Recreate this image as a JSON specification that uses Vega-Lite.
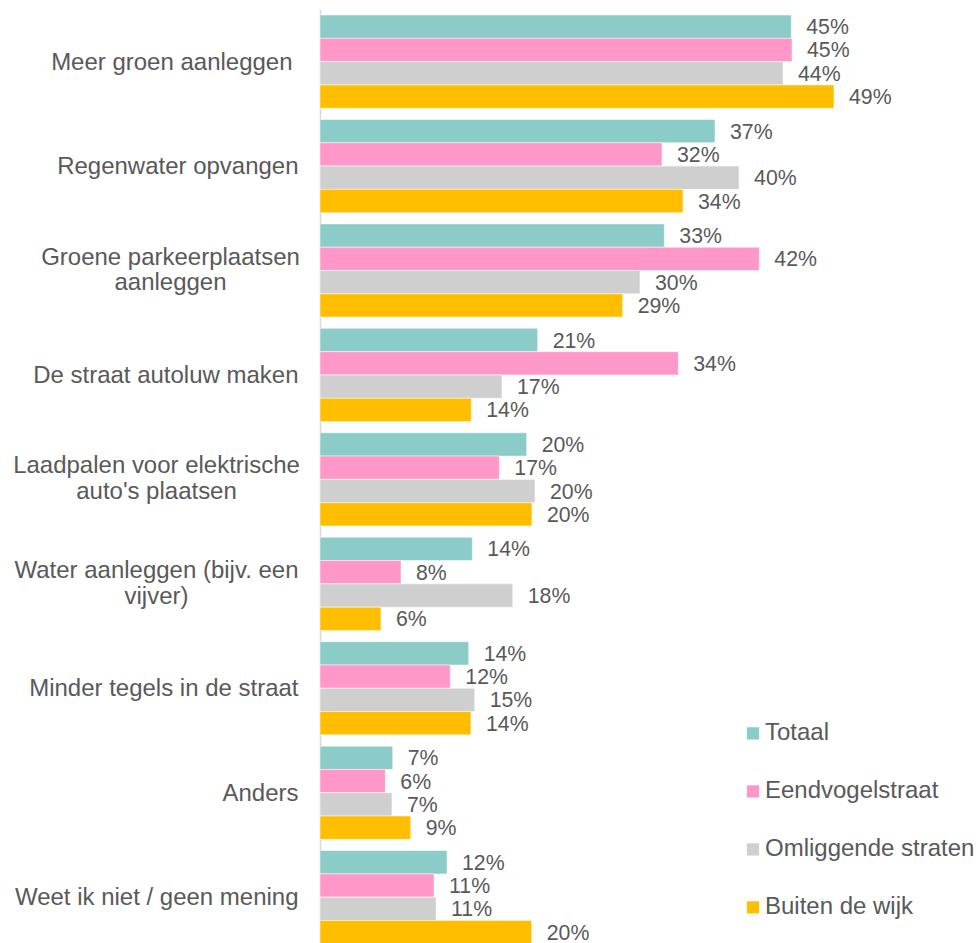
{
  "$schema": "https://vega.github.io/schema/vega-lite/v6.json",
  "autosize": {"type": "none"},
  "padding": {"left": 320, "top": 9.4, "right": 25, "bottom": 0},
  "width": 633,
  "height": 940,
  "background": "white",
  "config": {"view": {"stroke": null}, "font": "Liberation Sans"},
  "data": {"values": [
    {"cat": "Meer groen aanleggen", "series": "Totaal", "value": 0.4467},
    {"cat": "Meer groen aanleggen", "series": "Eendvogelstraat", "value": 0.4474},
    {"cat": "Meer groen aanleggen", "series": "Omliggende straten", "value": 0.4389},
    {"cat": "Meer groen aanleggen", "series": "Buiten de wijk", "value": 0.4872},
    {"cat": "Regenwater opvangen", "series": "Totaal", "value": 0.3744},
    {"cat": "Regenwater opvangen", "series": "Eendvogelstraat", "value": 0.3242},
    {"cat": "Regenwater opvangen", "series": "Omliggende straten", "value": 0.3972},
    {"cat": "Regenwater opvangen", "series": "Buiten de wijk", "value": 0.3441},
    {"cat": "Groene parkeerplaatsen aanleggen", "series": "Totaal", "value": 0.3264},
    {"cat": "Groene parkeerplaatsen aanleggen", "series": "Eendvogelstraat", "value": 0.4164},
    {"cat": "Groene parkeerplaatsen aanleggen", "series": "Omliggende straten", "value": 0.3033},
    {"cat": "Groene parkeerplaatsen aanleggen", "series": "Buiten de wijk", "value": 0.2869},
    {"cat": "De straat autoluw maken", "series": "Totaal", "value": 0.2063},
    {"cat": "De straat autoluw maken", "series": "Eendvogelstraat", "value": 0.3396},
    {"cat": "De straat autoluw maken", "series": "Omliggende straten", "value": 0.1725},
    {"cat": "De straat autoluw maken", "series": "Buiten de wijk", "value": 0.1434},
    {"cat": "Laadpalen voor elektrische auto's plaatsen", "series": "Totaal", "value": 0.1959},
    {"cat": "Laadpalen voor elektrische auto's plaatsen", "series": "Eendvogelstraat", "value": 0.1700},
    {"cat": "Laadpalen voor elektrische auto's plaatsen", "series": "Omliggende straten", "value": 0.2038},
    {"cat": "Laadpalen voor elektrische auto's plaatsen", "series": "Buiten de wijk", "value": 0.2009},
    {"cat": "Water aanleggen (bijv. een vijver)", "series": "Totaal", "value": 0.1444},
    {"cat": "Water aanleggen (bijv. een vijver)", "series": "Eendvogelstraat", "value": 0.0768},
    {"cat": "Water aanleggen (bijv. een vijver)", "series": "Omliggende straten", "value": 0.1827},
    {"cat": "Water aanleggen (bijv. een vijver)", "series": "Buiten de wijk", "value": 0.0578},
    {"cat": "Minder tegels in de straat", "series": "Totaal", "value": 0.1409},
    {"cat": "Minder tegels in de straat", "series": "Eendvogelstraat", "value": 0.1235},
    {"cat": "Minder tegels in de straat", "series": "Omliggende straten", "value": 0.1466},
    {"cat": "Minder tegels in de straat", "series": "Buiten de wijk", "value": 0.1431},
    {"cat": "Anders", "series": "Totaal", "value": 0.0689},
    {"cat": "Anders", "series": "Eendvogelstraat", "value": 0.0619},
    {"cat": "Anders", "series": "Omliggende straten", "value": 0.0682},
    {"cat": "Anders", "series": "Buiten de wijk", "value": 0.0860},
    {"cat": "Weet ik niet / geen mening", "series": "Totaal", "value": 0.1204},
    {"cat": "Weet ik niet / geen mening", "series": "Eendvogelstraat", "value": 0.1081},
    {"cat": "Weet ik niet / geen mening", "series": "Omliggende straten", "value": 0.1100},
    {"cat": "Weet ik niet / geen mening", "series": "Buiten de wijk", "value": 0.2007}
  ]},
  "encoding": {
    "y": {
      "field": "cat", "type": "nominal", "sort": null,
      "scale": {"paddingInner": 0.108, "paddingOuter": 0.054},
      "axis": {
        "title": null,
        "ticks": false,
        "domainColor": "#d9d9d9",
        "domainWidth": 1.5,
        "labelFont": "Liberation Sans",
        "labelFontSize": 24,
        "labelColor": "#595959",
        "labelLimit": 400,
        "labelLineHeight": 26,
        "labelPadding": {"condition": [
          {"test": "datum.value == 'Groene parkeerplaatsen aanleggen'", "value": 150},
          {"test": "datum.value == \"Laadpalen voor elektrische auto's plaatsen\" || datum.value == 'Water aanleggen (bijv. een vijver)'", "value": 164},
          {"test": "datum.value == 'Meer groen aanleggen'", "value": 28}
        ], "value": 22},
        "labelOffset": {"condition": {"test": "datum.value == 'Groene parkeerplaatsen aanleggen' || datum.value == \"Laadpalen voor elektrische auto's plaatsen\" || datum.value == 'Water aanleggen (bijv. een vijver)'", "value": -13}, "value": 1},
        "labelAlign": {"condition": {"test": "datum.value == 'Groene parkeerplaatsen aanleggen' || datum.value == \"Laadpalen voor elektrische auto's plaatsen\" || datum.value == 'Water aanleggen (bijv. een vijver)'", "value": "center"}, "value": "right"},
        "labelExpr": "datum.value == 'Groene parkeerplaatsen aanleggen' ? ['Groene parkeerplaatsen', 'aanleggen'] : datum.value == \"Laadpalen voor elektrische auto's plaatsen\" ? ['Laadpalen voor elektrische', \"auto's plaatsen\"] : datum.value == 'Water aanleggen (bijv. een vijver)' ? ['Water aanleggen (bijv. een', 'vijver)'] : datum.label"
      }
    },
    "yOffset": {
      "field": "series", "type": "nominal",
      "sort": ["Totaal", "Eendvogelstraat", "Omliggende straten", "Buiten de wijk"],
      "scale": {"paddingInner": 0, "paddingOuter": 0}
    },
    "x": {
      "field": "value", "type": "quantitative",
      "scale": {"domain": [0, 0.6], "nice": false},
      "axis": null
    }
  },
  "layer": [
    {
      "mark": {"type": "bar", "stroke": "white", "strokeWidth": 0.5},
      "encoding": {
        "color": {
          "field": "series", "type": "nominal",
          "scale": {
            "domain": ["Totaal", "Eendvogelstraat", "Omliggende straten", "Buiten de wijk"],
            "range": ["#8bcbc8", "#ff97c9", "#d0cfd0", "#ffbf00"]
          },
          "legend": {
            "title": null,
            "orient": "none",
            "legendX": 421,
            "legendY": 712,
            "symbolType": "square",
            "symbolSize": 150,
            "symbolStrokeWidth": 0,
            "labelFont": "Liberation Sans",
            "labelFontSize": 24,
            "labelColor": "#595959",
            "labelOffset": 0,
            "rowPadding": 34,
            "labelLimit": 400
          }
        }
      }
    },
    {
      "mark": {"type": "text", "align": "left", "baseline": "middle", "dx": 15, "dy": 1.5, "fontSize": 21.3, "font": "Liberation Sans", "color": "#595959"},
      "encoding": {
        "text": {"field": "value", "type": "quantitative", "format": ".0%"}
      }
    }
  ]
}
